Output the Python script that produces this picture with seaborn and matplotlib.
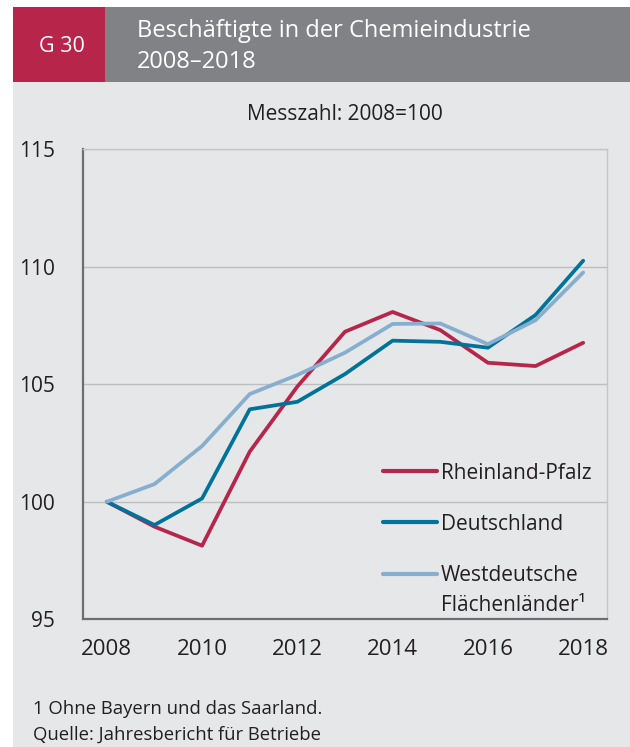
import matplotlib
matplotlib.use("Agg")
import matplotlib.pyplot as plt
from matplotlib.patches import Rectangle
import seaborn as sns
import pandas as pd

# ---- data ----
years = [2008, 2009, 2010, 2011, 2012, 2013, 2014, 2015, 2016, 2017, 2018]
rheinland_pfalz = [100.0, 98.94, 98.13, 102.13, 104.9, 107.23, 108.07, 107.3, 105.91, 105.77, 106.76]
deutschland = [100.0, 99.01, 100.14, 103.93, 104.25, 105.43, 106.85, 106.8, 106.55, 107.94, 110.25]
westdeutsche = [100.0, 100.75, 102.37, 104.58, 105.39, 106.34, 107.56, 107.58, 106.7, 107.72, 109.75]
series_names = ["Rheinland-Pfalz", "Deutschland", "Westdeutsche"]
series_note = "Flächenländer\u00b9"
y_ticks = [95, 100, 105, 110, 115]
x_labels = [2008, 2010, 2012, 2014, 2016, 2018]

title_line1 = "Beschäftigte in der Chemieindustrie"
title_line2 = "2008\u20132018"
chart_no = "G 30"
subtitle = "Messzahl: 2008=100"
footnote = "1 Ohne Bayern und das Saarland."
source = "Quelle: Jahresbericht für Betriebe"

# ---- style ----
RED = "#B7254B"
BLUE = "#00739A"
LIGHT = "#86AECF"
BG = "#E6E7E9"
HEAD_GRAY = "#808285"
TXT = "#231F20"
AXC = "#6D6E71"

sns.set_theme(style="white")
plt.rcParams["font.family"] = ["Open Sans", "DejaVu Sans"]

df = pd.DataFrame({
    "Jahr": years * 3,
    "Wert": rheinland_pfalz + deutschland + westdeutsche,
    "Reihe": [series_names[0]] * len(years) + [series_names[1]] * len(years) + [series_names[2]] * len(years),
})

W, H = 630, 747
fig = plt.figure(figsize=(W / 100, H / 100), dpi=100)
fig.patch.set_facecolor("white")

# background panel and header
fig.add_artist(Rectangle((13 / W, 0), 1 - 13 / W, (H - 82) / H, transform=fig.transFigure,
                         facecolor=BG, edgecolor="none", zorder=0))
fig.add_artist(Rectangle((13 / W, (H - 82) / H), (105 - 13) / W, 75 / H, transform=fig.transFigure,
                         facecolor=RED, edgecolor="none", zorder=0))
fig.add_artist(Rectangle((105 / W, (H - 82) / H), 1 - 105 / W, 75 / H, transform=fig.transFigure,
                         facecolor=HEAD_GRAY, edgecolor="none", zorder=0))

fig.text(62 / W, 1 - 47 / H, chart_no, color="white", fontsize=15.5, ha="center", va="center")
fig.text(137 / W, 1 - 31 / H, title_line1, color="white", fontsize=17, ha="left", va="center")
fig.text(137 / W, 1 - 62 / H, title_line2, color="white", fontsize=17, ha="left", va="center")

ax = fig.add_axes([83 / W, (H - 619.3) / H, (607 - 83) / W, (619.3 - 149) / H])
ax.set_facecolor(BG)

sns.lineplot(data=df, x="Jahr", y="Wert", hue="Reihe", palette=[RED, BLUE, LIGHT],
             linewidth=2.7, ax=ax, sort=False)

ax.set_xlim(2007.5, 2018.5)
ax.set_ylim(95, 115)
ax.set_xlabel("")
ax.set_ylabel("")

# grid
ax.set_yticks(y_ticks)
ax.set_yticklabels([str(v) for v in y_ticks])
ax.yaxis.grid(True, color="#BCBEC0", linewidth=1.0)
ax.set_axisbelow(True)

# x: boundary ticks, labels at centers
ax.set_xticks([y - 0.5 for y in years] + [years[-1] + 0.5])
ax.set_xticklabels([])
ax.set_xticks(x_labels, minor=True)
ax.set_xticklabels([str(v) for v in x_labels], minor=True)
ax.tick_params(axis="x", which="major", direction="out", length=6, width=1.4, color=AXC)
ax.tick_params(axis="x", which="minor", length=0, pad=14, labelsize=16, labelcolor=TXT)
ax.tick_params(axis="y", which="major", direction="out", length=6, width=1.4, color=AXC,
               pad=14, labelsize=15, labelcolor=TXT)

for s in ["left", "bottom"]:
    ax.spines[s].set_color(AXC)
    ax.spines[s].set_linewidth(1.6)
for s in ["top", "right"]:
    ax.spines[s].set_color("#C4C5C8")
    ax.spines[s].set_linewidth(1.0)

ax.text(0.5, 1.0 + 34 / 470, subtitle, transform=ax.transAxes, ha="center", va="center",
        fontsize=15, color=TXT)

fs_px = 15 * 100 / 72
leg = ax.legend(loc="upper left",
                bbox_to_anchor=((383 - 83 - 0.4 * fs_px) / 524, 1 - (454 - 149) / 470),
                frameon=False, fontsize=15, handlelength=54 / fs_px, handletextpad=4 / fs_px,
                labelspacing=1.45, borderaxespad=0)
for t in leg.get_texts():
    t.set_color(TXT)
for l in leg.get_lines():
    l.set_linewidth(3.0)

# second line of the third legend label (with footnote marker); drawn after the legend
ax.annotate(series_note, xy=(0, 0), xycoords=leg.get_texts()[2], xytext=(0, -30),
            textcoords="offset pixels", ha="left", va="bottom", fontsize=15, color=TXT,
            zorder=10, annotation_clip=False)

fig.text(33 / W, 1 - 709 / H, footnote, fontsize=13.3, color=TXT, ha="left", va="center")
fig.text(33 / W, 1 - 735 / H, source, fontsize=13.3, color=TXT, ha="left", va="center")

fig.savefig("out.png", dpi=100)
